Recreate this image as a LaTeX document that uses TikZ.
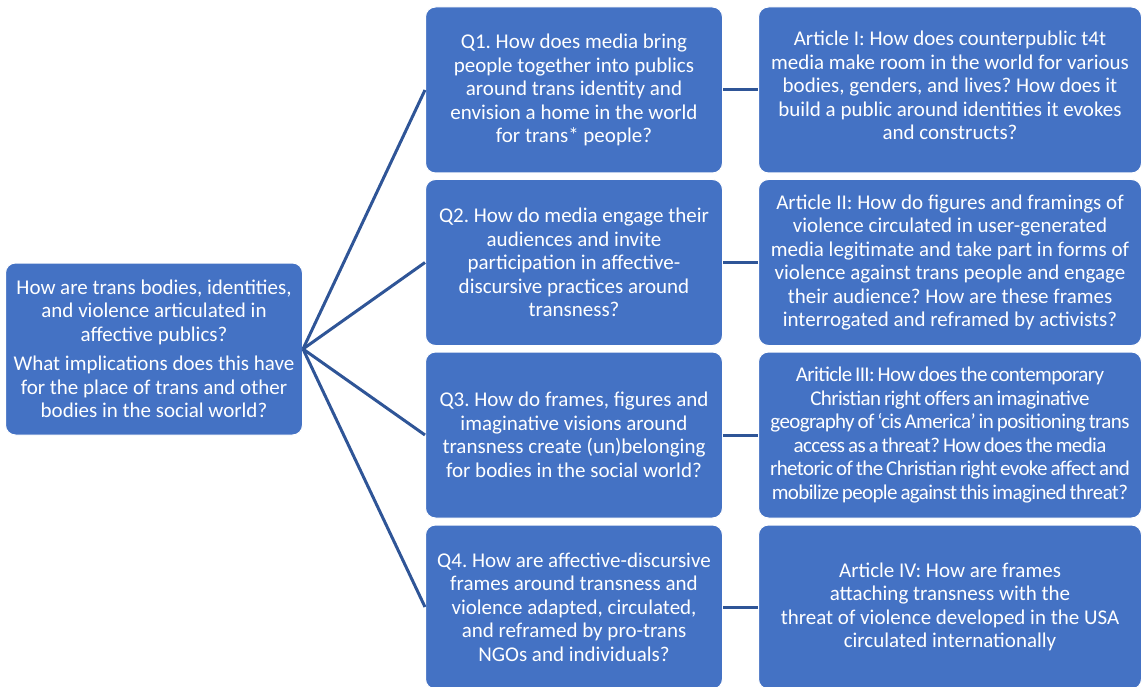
\documentclass[tikz,border=0pt]{standalone}
\usepackage{fontspec}
\setmainfont{Carlito}
\frenchspacing
\definecolor{boxblue}{HTML}{4472C4}
\definecolor{linkblue}{HTML}{2F5597}
\newcommand{\tightfont}{\fontsize{21}{23.5}\selectfont\addfontfeature{LetterSpace=-3}\spaceskip=0.14em\relax}
\tikzset{
  qbox/.style={fill=boxblue, draw=white, line width=1pt, rounded corners=10pt,
    text=white, align=center, inner sep=2pt,
    font=\fontsize{21}{23.5}\selectfont},
  tightbox/.style={qbox, font=\tightfont},
  link/.style={draw=linkblue, line width=3pt}
}
\begin{document}
\begin{tikzpicture}[x=1pt,y=-1pt]
  \useasboundingbox (0,0) rectangle (1146,687);
  % main question
  \node[qbox, minimum width=297pt, minimum height=172pt] (main) at (154,349)
    {How are trans bodies, identities,\\ and violence articulated in\\ affective publics?\\[6pt]
     What implications does this have\\ for the place of trans and other\\ bodies in the social world?};
  % sub questions
  \node[qbox, minimum width=297pt, minimum height=166pt] (q1) at (574,90)
    {Q1. How does media bring\\ people together into publics\\ around trans identity and\\ envision a home in the world\\ for trans* people?};
  \node[qbox, minimum width=297pt, minimum height=166pt] (q2) at (574,262.5)
    {Q2. How do media engage their\\ audiences and invite\\ participation in affective-\\ discursive practices around\\ transness?};
  \node[qbox, minimum width=297pt, minimum height=166pt] (q3) at (574,435)
    {Q3. How do frames, figures and\\ imaginative visions around\\ transness create (un)belonging\\ for bodies in the social world?};
  \node[qbox, minimum width=297pt, minimum height=164pt] (q4) at (574,607)
    {Q4. How are affective-discursive\\ frames around transness and\\ violence adapted, circulated,\\ and reframed by pro-trans\\ NGOs and individuals?};
  % articles
  \node[qbox, minimum width=383pt, minimum height=166pt] (a1) at (950,90)
    {Article I: How does counterpublic t4t\\ media make room in the world for various\\ bodies, genders, and lives? How does it\\ build a public around identities it evokes\\ and constructs?\\[-14.5pt]};
  \node[qbox, minimum width=383pt, minimum height=166pt] (a2) at (950,262.5)
    {Article II: How do figures and framings of\\ violence circulated in user-generated\\ media legitimate and take part in forms of\\ violence against trans people and engage\\ their audience? How are these frames\\ interrogated and reframed by activists?};
  \node[tightbox, minimum width=383pt, minimum height=166pt] (a3) at (950,435)
    {Ariticle III: How does the contemporary\\ Christian right offers an imaginative\\ geography of ‘cis America’ in positioning trans\\ access as a threat? How does the media\\ rhetoric of the Christian right evoke affect and\\ mobilize people against this imagined threat?};
  \node[qbox, minimum width=383pt, minimum height=164pt] (a4) at (950,607)
    {Article IV: How are frames\\ attaching transness with the\\ threat of violence developed in the USA\\ circulated internationally};
  % connectors
  \foreach \q in {q1,q2,q3,q4}
    \draw[link] (main.east) -- (\q.west);
  \draw[link] (q1.east) -- (a1.west);
  \draw[link] (q2.east) -- (a2.west);
  \draw[link] (q3.east) -- (a3.west);
  \draw[link] (q4.east) -- (a4.west);
\end{tikzpicture}
\end{document}
